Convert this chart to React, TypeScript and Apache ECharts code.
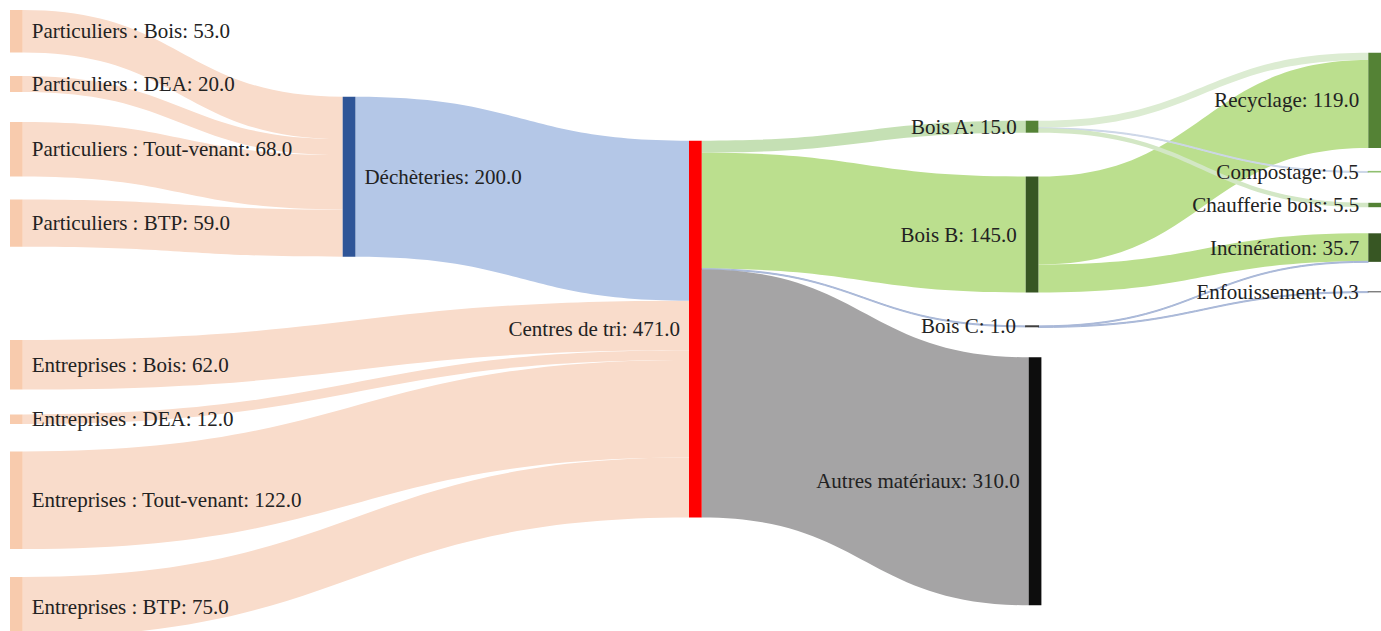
import React, { useEffect, useRef } from "react";
import * as echarts from "echarts";

// ---- data ----
const nodeNames = [
  "Particuliers : Bois",
  "Particuliers : DEA",
  "Particuliers : Tout-venant",
  "Particuliers : BTP",
  "Entreprises : Bois",
  "Entreprises : DEA",
  "Entreprises : Tout-venant",
  "Entreprises : BTP",
  "Déchèteries",
  "Centres de tri",
  "Bois A",
  "Bois B",
  "Bois C",
  "Autres matériaux",
  "Recyclage",
  "Compostage",
  "Chaufferie bois",
  "Incinération",
  "Enfouissement",
];

const linkSources = [
  "Particuliers : Bois", "Particuliers : DEA", "Particuliers : Tout-venant", "Particuliers : BTP",
  "Entreprises : Bois", "Entreprises : DEA", "Entreprises : Tout-venant", "Entreprises : BTP",
  "Déchèteries",
  "Centres de tri", "Centres de tri", "Centres de tri", "Centres de tri",
  "Bois B", "Bois B",
  "Bois C", "Bois C",
  "Bois A", "Bois A", "Bois A",
];
const linkTargets = [
  "Déchèteries", "Déchèteries", "Déchèteries", "Déchèteries",
  "Centres de tri", "Centres de tri", "Centres de tri", "Centres de tri",
  "Centres de tri",
  "Bois A", "Bois B", "Bois C", "Autres matériaux",
  "Recyclage", "Incinération",
  "Incinération", "Enfouissement",
  "Recyclage", "Compostage", "Chaufferie bois",
];
const linkValues = [
  53, 20, 68, 59,
  62, 12, 122, 75,
  200,
  15, 145, 1, 310,
  110, 35,
  0.7, 0.3,
  9, 0.5, 5.5,
];

// ---- layout (positions in px within a 1381x631 box) ----
const nodeDepth = [0, 0, 0, 0, 0, 0, 0, 0, 1, 2, 3, 3, 3, 3, 4, 4, 4, 4, 4];
const nodeLeft = [10, 10, 10, 10, 10, 10, 10, 10, 342.7, 689, 1025.7, 1025.7, 1025.7, 1028.7, 1368.3, 1368.3, 1368.3, 1368.3, 1368.3];
const nodeTop = [10, 76, 122, 199.5, 340, 414.5, 451.5, 577, 96.7, 140.7, 120.7, 176.5, 325.9, 357.3, 52.7, 171.5, 202.8, 233.3, 291.6];

// ---- styles ----
const nodeColors = [
  "#f8cbad", "#f8cbad", "#f8cbad", "#f8cbad",
  "#f8cbad", "#f8cbad", "#f8cbad", "#f8cbad",
  "#2f5597", "#ff0000",
  "#548235", "#375623", "#404040", "#0d0d0d",
  "#548235", "#8fbf6f", "#548235", "#375623", "#7f7f7f",
];
const linkColors = [
  "#f9dccb", "#f9dccb", "#f9dccb", "#f9dccb",
  "#f9dccb", "#f9dccb", "#f9dccb", "#f9dccb",
  "#b4c7e7",
  "#c5e0b4", "#bbdf8e", "#a9b8d8", "#a5a4a5",
  "#bbdf8e", "#bbdf8e",
  "#a9b8d8", "#a9b8d8",
  "#dcecd2", "#cdd7e8", "#d3e7c5",
];

const W = 1381;
const H = 631;
const SCALE = 0.8; // px per unit

export default function App() {
  const ref = useRef<HTMLDivElement>(null);

  useEffect(() => {
    if (!ref.current) return;
    const chart = echarts.init(ref.current, undefined, { renderer: "svg" });

    const nodeValue = (name: string) => {
      let vin = 0;
      let vout = 0;
      linkSources.forEach((s, i) => {
        if (s === name) vout += linkValues[i];
        if (linkTargets[i] === name) vin += linkValues[i];
      });
      return Math.max(vin, vout);
    };

    const col0Total = nodeNames
      .filter((_, i) => nodeDepth[i] === 0)
      .reduce((a, n) => a + nodeValue(n), 0);
    const col0Count = nodeDepth.filter((d) => d === 0).length;
    const nodeGap = (H - col0Total * SCALE) / (col0Count - 1);

    const data = nodeNames.map((name, i) => {
      const v = nodeValue(name);
      const tiny = v < 2;
      return {
        name,
        value: v,
        depth: nodeDepth[i],
        localX: nodeLeft[i] / W,
        localY: nodeTop[i] / H,
        itemStyle: {
          color: nodeColors[i],
          borderColor: nodeColors[i],
          borderWidth: tiny ? 1.2 : 0,
        },
        label: {
          position: nodeDepth[i] <= 1 ? "right" : "left",
        },
      };
    });

    const links = linkValues.map((v, i) => ({
      source: linkSources[i],
      target: linkTargets[i],
      value: v,
      lineStyle: {
        color: linkColors[i],
        opacity: 1,
        borderColor: linkColors[i],
        borderWidth: v < 2 ? 1 : 0,
      },
    }));

    chart.setOption({
      animation: false,
      backgroundColor: "#ffffff",
      series: [
        {
          type: "sankey",
          left: 0,
          top: 0,
          width: W,
          height: H,
          nodeWidth: 12.7,
          nodeGap,
          nodeAlign: "left",
          layoutIterations: 0,
          draggable: false,
          emphasis: { disabled: true },
          data,
          links,
          lineStyle: { curveness: 0.5, opacity: 1 },
          label: {
            show: true,
            distance: 9,
            fontFamily: "'Liberation Serif', 'Times New Roman', serif",
            fontSize: 21,
            color: "#222222",
            formatter: (p: any) => `${p.name}: ${Number(p.value).toFixed(1)}`,
          },
        },
      ],
    });

    return () => {
      chart.dispose();
    };
  }, []);

  return (
    <div
      ref={ref}
      style={{ position: "absolute", left: 0, top: 0, width: W, height: H }}
    />
  );
}
